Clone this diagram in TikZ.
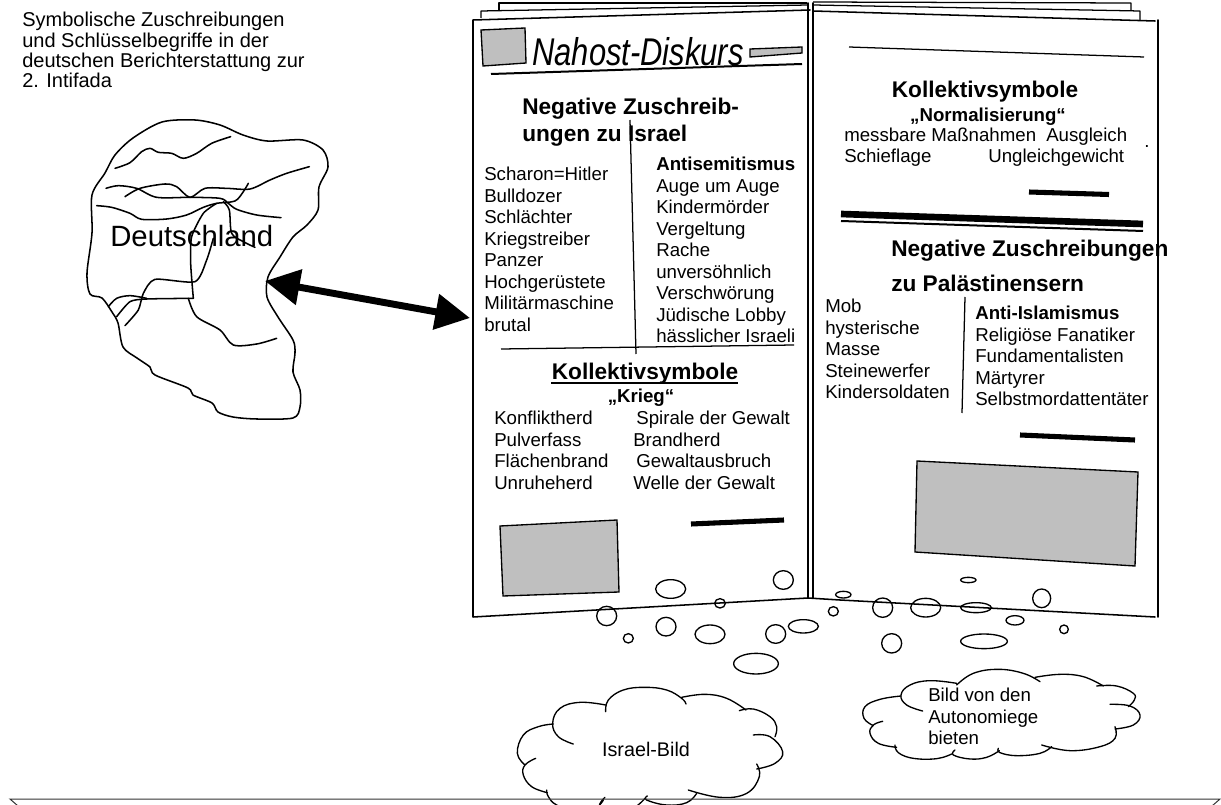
\documentclass[tikz,border=0pt]{standalone}
\usepackage{fontspec}
\usetikzlibrary{arrows.meta}
\setmainfont{Liberation Sans}
\newfontfamily\titlefont[FakeStretch=0.8]{Liberation Sans}
\tikzset{
  ink/.style={draw=black,line width=1.15pt,line join=round,line cap=round},
  thin ink/.style={draw=black,line width=0.95pt,line join=round},
  bar/.style={draw=black,line width=3.8pt},
  grayrect/.style={draw=black,line width=1pt,fill=black!25},
  txt/.style={anchor=north west,inner sep=0pt,align=left,font=\fontsize{14}{16.1}\selectfont},
  one/.style={anchor=base west,inner sep=0pt,font=\fontsize{14}{16}\selectfont},
  head/.style={anchor=base west,inner sep=0pt,font=\fontsize{17}{20}\selectfont\bfseries},
  sub/.style={anchor=center,inner sep=0pt,font=\fontsize{14}{16}\selectfont\bfseries},
  bub/.style={draw=black,line width=1pt},
  cloudln/.style={draw=black,line width=1pt,line cap=round}
}
\newcommand{\lobe}[1]{\draw[cloudln] plot[smooth,tension=0.7] coordinates {#1};}
\newcommand{\bubble}[4]{\draw[bub] (#1,#2) ellipse [x radius=#3,y radius=#4];}
\begin{document}
\begin{tikzpicture}[x=0.75pt,y=-0.75pt]
\useasboundingbox (0,0) rectangle (1221,805);
\node[anchor=north west,inner sep=0pt,align=left,font=\fontsize{15}{15.3}\selectfont] (caption) at (22,12) {Symbolische Zuschreibungen\\und Schlüsselbegriffe in der\\deutschen Berichterstattung zur\\2. Intifada};
% Deutschland
\draw[ink] plot[smooth cycle,tension=0.5] coordinates {(155,375)(150,367)(137,358)(123,347)(118,323)(112,312)(102,298)(90,294)(87,273)(92,233)(92,195)(105,173)(115,155)(133,138)(162,122)(195,120)(220,125)(243,135)(267,141)(303,140)(323,150)(328,167)(319,187)(318,210)(307,225)(293,237)(280,257)(268,277)(267,297)(278,317)(293,340)(295,353)(293,372)(300,390)(300,407)(293,418)(257,419)(233,417)(218,412)(212,403)(193,395)(188,388)};
\begin{scope}[shift={(80,120)},x=0.25pt,y=-0.25pt]
\draw[ink] plot[smooth,tension=0.5] coordinates {(105,145)(150,128)(185,95)(210,85)(235,97)(275,100)(310,115)(350,100)(395,70)(452,50)};
\draw[ink] plot[smooth,tension=0.5] coordinates {(78,205)(115,197)(170,205)(230,232)(330,232)(420,235)(445,250)(470,268)(530,285)(603,293)};
\draw[ink] plot[smooth,tension=0.5] coordinates {(135,230)(180,205)(255,192)(290,200)(330,232)(375,205)(440,205)(510,207)(570,180)(620,160)(688,140)};
\draw[ink] plot[smooth,tension=0.5] coordinates {(505,190)(490,215)(465,243)(410,250)(370,262)(320,285)(260,297)(185,298)(150,280)(95,262)(50,257)};
\draw[ink] plot[smooth,tension=0.4] coordinates {(410,250)(370,280)(335,350)(332,430)(340,535)};
\draw[ink] plot[smooth,tension=0.4] coordinates {(340,535)(200,537)(150,545)(110,590)};
\draw[ink] plot[smooth,tension=0.5] coordinates {(325,535)(350,590)(420,630)(460,675)(530,672)(590,655)};
\draw[ink] plot[smooth,tension=0.5] coordinates {(430,245)(448,270)(455,340)(490,365)(525,382)};
\draw[ink] plot[smooth,tension=0.4] coordinates {(400,355)(380,420)(345,485)(225,478)(190,520)(175,570)(135,617)};
\draw[ink] plot[smooth,tension=0.5] coordinates {(85,560)(110,535)(150,527)(200,535)};
\end{scope}
\node[anchor=west,inner sep=0pt,font=\fontsize{22}{24}\selectfont] (de) at (110,236) {Deutschland};
% double arrow
\coordinate (ga) at (265,281);
\coordinate (gb) at (470,318);
\draw[line width=5.2pt,{Triangle[length=26pt,width=26pt]}-{Triangle[length=26pt,width=26pt]}] (ga) -- (gb);
% back pages
\draw[thin ink] (499,10) -- (499,3) -- (807,3);
\draw[thin ink] (481,18) -- (481,11) -- (808,5);
\draw[thin ink] (813,2) -- (1131,3) -- (1131,10);
\draw[thin ink] (813,5) -- (1140,11) -- (1140,20);
% pages
\draw[ink] (810,10) -- (473,20) -- (473,617) -- (808,598);
\draw[ink] (808,598) -- (808,3);
\draw[ink] (813,598) -- (813,3);
\draw[ink] (813,11) -- (1155,21);
\draw[ink] (1158,20) -- (1158,617);
\draw[ink] (808,598) -- (840,600) -- (1155,617);
% header
\draw[grayrect] (481,30) -- (525,28) -- (526,63) -- (483,66) -- cycle;
\draw[grayrect] (750,49) -- (802,47) -- (802,53) -- (750,57) -- cycle;
\node[anchor=west,inner sep=0pt,font=\fontsize{29}{32}\selectfont\itshape] (title) at (532,52) {\titlefont Nahost-Diskurs};
\draw[line width=1.5pt] (491,74) -- (802,64);
% left column
\node[head] (nz1) at (522,115) {Negative Zuschreib-};
\node[head] (nz2) at (522,142) {ungen zu Israel};
\node[txt] (lc1) at (484,167) {Scharon=Hitler\\Bulldozer\\Schlächter\\Kriegstreiber\\Panzer\\Hochgerüstete\\Militärmaschine\\brutal};
\node[txt] (lc2) at (656,157) {\textbf{Antisemitismus}\\Auge um Auge\\Kindermörder\\Vergeltung\\Rache\\unversöhnlich\\Verschwörung\\Jüdische Lobby\\hässlicher Israeli};
\draw[thin ink] (630,120) -- (636,354);
\draw[thin ink] (501,349) -- (794,345);
\node[anchor=center,inner sep=0pt,font=\fontsize{17}{20}\selectfont\bfseries] (ks) at (645,374) {Kollektivsymbole};
\draw[line width=1.3pt] (551,383) -- (738,383);
\node[sub] (kr) at (641,398) {„Krieg“};
\node[txt] (kc1) at (494,411) {Konfliktherd\\Pulverfass\\Flächenbrand\\Unruheherd};
\node[txt] (kc2) at (633,411) {\,Spirale der Gewalt\\Brandherd\\\,Gewaltausbruch\\Welle der Gewalt};
\draw[bar] (691,524) -- (784,520);
\draw[grayrect] (500,526) -- (617,520) -- (619,592) -- (503,596) -- cycle;
% right top
\draw[thin ink] (849,47) -- (1144,57);
\node[anchor=center,inner sep=0pt,font=\fontsize{17}{20}\selectfont\bfseries] (kr2) at (985,92) {Kollektivsymbole};
\node[sub] (nm) at (988,117) {„Normalisierung“};
\node[one] (n1) at (844,142) {messbare Maßnahmen};
\node[one] (n2) at (1046,142) {Ausgleich};
\node[one] (n3) at (844,163) {Schieflage};
\node[one] (n4) at (988,163) {Ungleichgewicht};
\node[inner sep=0pt,font=\fontsize{14}{14}\selectfont] (dot) at (1147,147) {.};
\draw[bar] (1029,192) -- (1109,194.5);
\draw[draw=black,line width=5pt] (841,214) -- (1143,224);
\draw[draw=black,line width=1.5pt] (841,221) -- (1143,231);
\node[head] (nz3) at (891,257) {Negative Zuschreibungen};
\node[head] (nz4) at (891,292) {zu Palästinensern};
\node[txt] (m1) at (825,299) {Mob\\hysterische\\Masse\\Steinewerfer\\Kindersoldaten};
\draw[thin ink] (965,297) -- (962,413);
\node[txt] (m2) at (975,306) {\textbf{Anti-Islamismus}\\Religiöse Fanatiker\\Fundamentalisten\\Märtyrer\\Selbstmordattentäter};
\draw[bar] (1020,435) -- (1135,440);
\draw[grayrect] (917,461) -- (1138,472) -- (1135,566) -- (915,552) -- cycle;
% bubbles, first crop
\begin{scope}[shift={(460,560)},x=0.25pt,y=-0.25pt]
\bubble{632}{87}{45}{28}
\bubble{970}{60}{30}{28}
\bubble{780}{130}{16}{14}
\bubble{440}{168}{30}{29}
\bubble{505}{235}{15}{14}
\bubble{618}{200}{30}{28}
\bubble{750}{223}{45}{28}
\bubble{947}{222}{30}{28}
\bubble{1030}{199}{45}{20}
\bubble{888}{311}{67}{31}
\bubble{1120}{154}{15}{14}
\bubble{1150}{104}{23}{10}
% Israel cloud
\lobe{(437,455)(445,420)(490,390)(555,382)(620,390)(665,415)(678,432)}
\lobe{(665,412)(735,403)(800,415)(858,450)}
\lobe{(838,452)(880,447)(930,470)(950,500)(945,530)}
\lobe{(880,525)(930,530)(968,575)(945,610)(890,627)}
\lobe{(890,612)(898,650)(860,700)(780,712)(685,690)}
\lobe{(710,700)(680,728)(620,735)(560,720)(562,708)}
\lobe{(555,715)(520,745)(470,760)(420,740)(435,712)}
\lobe{(430,720)(405,745)(350,755)(290,735)(265,710)(260,690)}
\lobe{(262,698)(215,680)(190,645)(195,615)(227,595)}
\lobe{(195,615)(172,580)(190,525)(235,500)(280,492)}
\lobe{(340,552)(295,530)(278,490)(300,445)(360,427)(437,435)}
\end{scope}
\node[anchor=center,inner sep=0pt,font=\fontsize{14.8}{16}\selectfont] (ib) at (646,749) {Israel-Bild};
\begin{scope}[shift={(840,560)},x=0.25pt,y=-0.25pt]
\bubble{385}{60}{23}{8}
\bubble{128}{143}{30}{29}
\bubble{257}{143}{45}{28}
\bubble{408}{143}{46}{15}
\bubble{605}{115}{27}{28}
\bubble{525}{181}{27}{14}
\bubble{672}{208}{13}{13}
\bubble{155}{250}{30}{29}
\bubble{432}{244}{70}{22}
% Autonomie cloud
\lobe{(350,375)(400,340)(475,328)(550,340)(600,365)}
\lobe{(585,352)(660,343)(730,350)(790,378)}
\lobe{(770,378)(830,378)(880,400)(883,420)(865,440)}
\lobe{(810,433)(870,438)(900,465)(880,495)(825,507)}
\lobe{(825,500)(825,535)(780,560)(690,572)(605,555)}
\lobe{(635,560)(600,580)(530,587)(480,578)(475,565)}
\lobe{(478,572)(440,592)(390,597)(340,585)(345,570)}
\lobe{(335,582)(290,596)(220,595)(175,578)(165,555)}
\lobe{(170,562)(115,550)(90,520)(100,495)(128,484)}
\lobe{(100,497)(72,475)(75,440)(120,418)(183,408)}
\lobe{(248,453)(200,435)(183,405)(210,375)(270,362)(350,370)}
\end{scope}
\node[txt] (ab) at (928,688) {Bild von den\\Autonomiege\\bieten};
% bottom edge
\draw[draw=black!80,line width=0.75pt] (18,806) -- (10,799) -- (1220,799) -- (1212,806);
\end{tikzpicture}
\end{document}
